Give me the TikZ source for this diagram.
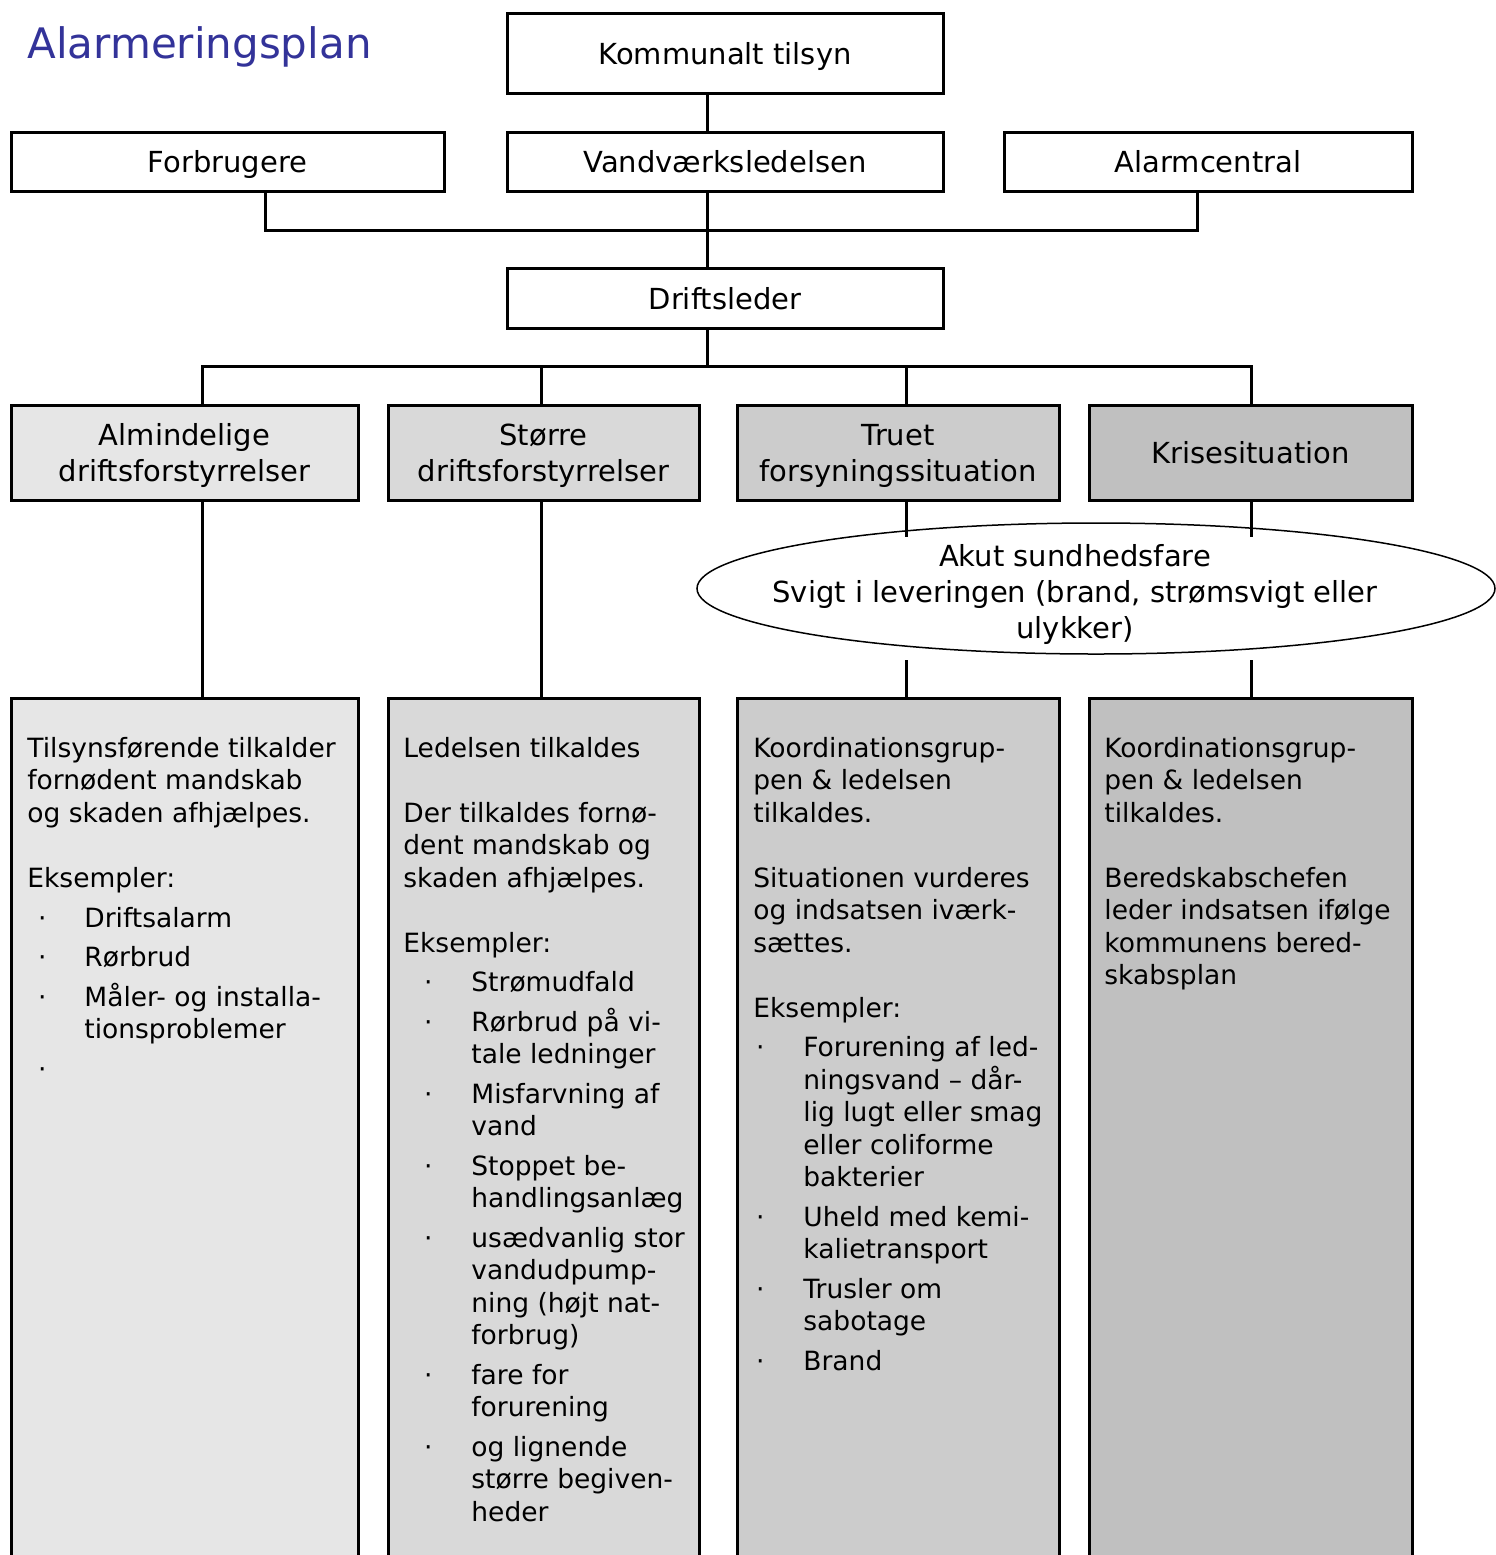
\documentclass[tikz,border=0pt]{standalone}
\usepackage{fontspec}
\setmainfont{DejaVu Sans}
\usetikzlibrary{shapes.geometric}
\definecolor{titleblue}{RGB}{51,51,153}
\definecolor{fillA}{RGB}{230,230,230}
\definecolor{fillB}{RGB}{217,217,217}
\definecolor{fillC}{RGB}{204,204,204}
\definecolor{fillD}{RGB}{192,192,192}
\newcommand{\mybul}[2]{\makebox[#2][l]{\hspace*{#1}·}}
\begin{document}
\lineskiplimit=-50pt\relax
\begin{tikzpicture}[x=0.5pt,y=-0.5pt,
  box/.style={draw,line width=1.5pt,rectangle,inner sep=2pt,text depth=0pt,font=\fontsize{14.5pt}{18pt}\selectfont,align=center},
  col/.style={draw,line width=1.5pt,rectangle,inner sep=0pt,anchor=north,minimum height=470pt},
  conn/.style={line width=1.5pt},
  body/.style={anchor=north west,inner sep=0pt,align=left,font=\fontsize{13.25pt}{16.25pt}\selectfont}]
\useasboundingbox (0,0) rectangle (1496,1555);
\clip (0,0) rectangle (1496,1555);

% title
\node[anchor=base west,inner sep=0pt,text=titleblue,font=\fontsize{21pt}{25pt}\selectfont] (title) at (27,58) {Alarmeringsplan};

% top levels
\node[box,minimum width=218pt,minimum height=40pt] (komm) at (725,53) {Kommunalt tilsyn};
\node[box,minimum width=216.5pt,minimum height=29.5pt] (forb) at (227.5,161.5) {Forbrugere};
\node[box,minimum width=218pt,minimum height=29.5pt] (vand) at (725,161.5) {Vandværksledelsen};
\node[box,minimum width=204pt,minimum height=29.5pt] (alarm) at (1208,161.5) {Alarmcentral};
\node[box,minimum width=218pt,minimum height=30pt] (drift) at (725,298) {Driftsleder};

% level 3
\node[box,fill=fillA,minimum width=173.5pt,minimum height=47.5pt] (alm) at (184.5,452.5) {Almindelige\\driftsforstyrrelser};
\node[box,fill=fillB,minimum width=155.5pt,minimum height=47.5pt] (stor) at (543.5,452.5) {Større\\driftsforstyrrelser};
\node[box,fill=fillC,minimum width=161pt,minimum height=47.5pt] (truet) at (898,452.5) {Truet\\forsyningssituation};
\node[box,fill=fillD,minimum width=161.5pt,minimum height=47.5pt] (krise) at (1250.5,452.5) {Krisesituation};

% bottom columns
\node[col,fill=fillA,minimum width=173.5pt] (d1) at (184.5,697) {};
\node[col,fill=fillB,minimum width=155.5pt] (d2) at (543.5,697) {};
\node[col,fill=fillC,minimum width=161pt] (d3) at (898,697) {};
\node[col,fill=fillD,minimum width=161.5pt] (d4) at (1250.5,697) {};

% ellipse
\node[ellipse,draw,line width=0.75pt,minimum width=399pt,minimum height=65.5pt,inner sep=0pt] (akut) at (1096,588.5) {};
\node[font=\fontsize{14.5pt}{18pt}\selectfont,align=center,inner sep=0pt] (akuttxt) at (1075,594) {Akut sundhedsfare\\Svigt i leveringen (brand, strømsvigt eller\\ulykker)};

% coordinates
\coordinate (mx) at (707,230);
\coordinate (fj) at (265.5,230);
\coordinate (aj) at (1197,230);
\coordinate (bus) at (707,366);
\coordinate (b1) at (202,366);
\coordinate (b2) at (541,366);
\coordinate (b3) at (906,366);
\coordinate (b4) at (1251,366);
\coordinate (e3a) at (906,537);
\coordinate (e3b) at (906,660);
\coordinate (e4a) at (1251,537);
\coordinate (e4b) at (1251,660);

% connectors
\draw[conn] (mx |- komm.south) -- (mx |- vand.north);
\draw[conn] (mx |- vand.south) -- (mx |- drift.north);
\draw[conn] (fj |- forb.south) -- (fj) -- (aj) -- (aj |- alarm.south);
\draw[conn] (mx |- drift.south) -- (bus);
\draw[conn] (b1 |- alm.north) -- (b1) -- (b4) -- (b4 |- krise.north);
\draw[conn] (b2) -- (b2 |- stor.north);
\draw[conn] (b3) -- (b3 |- truet.north);
\draw[conn] (b1 |- alm.south) -- (b1 |- d1.north);
\draw[conn] (b2 |- stor.south) -- (b2 |- d2.north);
\draw[conn] (b3 |- truet.south) -- (e3a);
\draw[conn] (e3b) -- (b3 |- d3.north);
\draw[conn] (b4 |- krise.south) -- (e4a);
\draw[conn] (e4b) -- (b4 |- d4.north);

% texts
\node[body] (t1) at (27,734.25) {\strut Tilsynsførende tilkalder\\
fornødent mandskab\\
og skaden afhjælpes.\\[16.25pt]
Eksempler:\\[3.75pt]
\mybul{5.4pt}{28.5pt}Driftsalarm\\[3.5pt]
\mybul{5.4pt}{28.5pt}Rørbrud\\[3.5pt]
\mybul{5.4pt}{28.5pt}Måler- og installa-\\
\hspace*{28.5pt}tionsproblemer\\[3.5pt]
\mybul{5.4pt}{28.5pt}\strut};

\node[body] (t2) at (403,734.25) {\strut Ledelsen tilkaldes\\[16.25pt]
Der tilkaldes fornø-\\
dent mandskab og\\
skaden afhjælpes.\\[16.25pt]
Eksempler:\\[3.5pt]
\mybul{10.4pt}{34pt}Strømudfald\\[3.5pt]
\mybul{10.4pt}{34pt}Rørbrud på vi-\\
\hspace*{34pt}tale ledninger\\[3.5pt]
\mybul{10.4pt}{34pt}Misfarvning af\\
\hspace*{34pt}vand\\[3.5pt]
\mybul{10.4pt}{34pt}Stoppet be-\\
\hspace*{34pt}handlingsanlæg\\[3.5pt]
\mybul{10.4pt}{34pt}usædvanlig stor\\
\hspace*{34pt}vandudpump-\\
\hspace*{34pt}ning (højt nat-\\
\hspace*{34pt}forbrug)\\[3.5pt]
\mybul{10.4pt}{34pt}fare for\\
\hspace*{34pt}forurening\\[3.5pt]
\mybul{10.4pt}{34pt}og lignende\\
\hspace*{34pt}større begiven-\\
\hspace*{34pt}heder};

\node[body] (t3) at (753,734.25) {\strut Koordinationsgrup-\\
pen \& ledelsen\\
tilkaldes.\\[16.25pt]
Situationen vurderes\\
og indsatsen iværk-\\
sættes.\\[16.25pt]
Eksempler:\\[3.5pt]
\mybul{1.4pt}{25pt}Forurening af led-\\
\hspace*{25pt}ningsvand – dår-\\
\hspace*{25pt}lig lugt eller smag\\
\hspace*{25pt}eller coliforme\\
\hspace*{25pt}bakterier\\[3.5pt]
\mybul{1.4pt}{25pt}Uheld med kemi-\\
\hspace*{25pt}kalietransport\\[3.5pt]
\mybul{1.4pt}{25pt}Trusler om\\
\hspace*{25pt}sabotage\\[3.5pt]
\mybul{1.4pt}{25pt}Brand};

\node[body] (t4) at (1104,734.25) {\strut Koordinationsgrup-\\
pen \& ledelsen\\
tilkaldes.\\[16.25pt]
Beredskabschefen\\
leder indsatsen ifølge\\
kommunens bered-\\
skabsplan};
\end{tikzpicture}
\end{document}
